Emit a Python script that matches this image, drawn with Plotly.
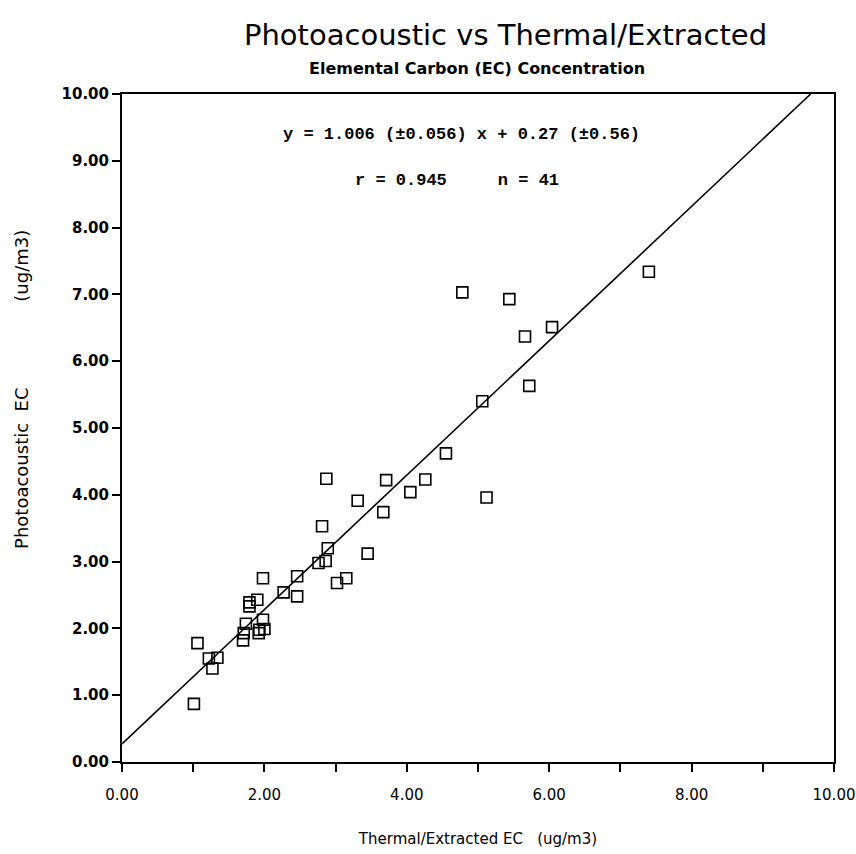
import plotly.graph_objects as go

# data (n = 41)
thermal_ec = [1.01, 1.06, 1.22, 1.34, 1.27, 1.70, 1.71, 1.74, 1.79, 1.79,
              1.90, 1.98, 1.92, 1.93, 1.98, 2.00, 2.27, 2.46, 2.46, 2.76,
              2.86, 2.89, 2.81, 2.87, 3.02, 3.15, 3.45, 3.31, 3.67, 3.71,
              4.05, 4.26, 4.55, 4.78, 5.44, 5.66, 6.04, 5.72, 5.06, 5.12,
              7.40]
photo_ec = [0.87, 1.78, 1.55, 1.56, 1.40, 1.82, 1.93, 2.07, 2.33, 2.39,
            2.43, 2.75, 1.93, 1.98, 2.13, 1.99, 2.54, 2.78, 2.48, 2.98,
            3.01, 3.20, 3.53, 4.24, 2.68, 2.75, 3.12, 3.91, 3.74, 4.22,
            4.04, 4.23, 4.62, 7.03, 6.93, 6.37, 6.51, 5.63, 5.40, 3.96,
            7.34]

# fit reported on the chart
slope = 1.006
intercept = 0.27
fit_x = [0.0, (10.0 - intercept) / slope]
fit_y = [intercept + slope * v for v in fit_x]

x_ticks = [0, 2, 4, 6, 8, 10]
y_ticks = [0, 1, 2, 3, 4, 5, 6, 7, 8, 9, 10]

fig = go.Figure()

fig.add_trace(go.Scatter(x=fit_x, y=fit_y, mode="lines",
                         line=dict(color="black", width=1.6),
                         hoverinfo="skip", showlegend=False))

fig.add_trace(go.Scatter(x=thermal_ec, y=photo_ec, mode="markers",
                         marker=dict(symbol="square-open", size=11, color="black",
                                     line=dict(width=1.6, color="black")),
                         showlegend=False))

# titles
fig.add_annotation(text="Photoacoustic vs Thermal/Extracted", xref="paper", yref="paper",
                   x=0.538, y=1.0, yshift=59, xanchor="center", yanchor="middle",
                   showarrow=False,
                   font=dict(family="DejaVu Sans", size=29, color="black"))
fig.add_annotation(text="<b>Elemental Carbon (EC) Concentration</b>", xref="paper", yref="paper",
                   x=0.499, y=1.0, yshift=26, xanchor="center", yanchor="middle",
                   showarrow=False,
                   font=dict(family="DejaVu Sans", size=16, color="black"))

# y axis title placed by hand (sits a bit above the plot centre)
fig.add_annotation(text="Photoacoustic  EC               (ug/m3)", xref="paper", yref="paper",
                   x=0.0, xshift=-100, y=0.557, xanchor="center", yanchor="middle",
                   textangle=-90, showarrow=False,
                   font=dict(family="DejaVu Sans", size=18, color="black"))

# fit text inside the plot
eq_font = dict(family="Liberation Mono, DejaVu Sans Mono", size=17, color="black")
fig.add_annotation(text="<b>y = 1.006 (±0.056) x + 0.27 (±0.56)</b>", x=4.77, y=9.40,
                   showarrow=False, font=eq_font)
fig.add_annotation(text="<b>r = 0.945     n = 41</b>", x=4.70, y=8.70,
                   showarrow=False, font=eq_font)

axis_common = dict(range=[0, 10], showgrid=False, zeroline=False,
                   showline=True, linecolor="black", linewidth=2, mirror=True,
                   ticks="outside", ticklen=8, tickwidth=1.5, tickcolor="black",
                   tickformat=".2f")

fig.update_xaxes(**axis_common, tickvals=x_ticks,
                 minor=dict(dtick=1, ticks="outside", ticklen=8, tickwidth=1.5, tickcolor="black"),
                 ticklabelstandoff=10, ticklabeloverflow="allow",
                 tickfont=dict(family="DejaVu Sans", size=15, color="black"),
                 title=dict(text="Thermal/Extracted EC   (ug/m3)", standoff=30,
                            font=dict(family="DejaVu Sans", size=15, color="black")))
fig.update_yaxes(**axis_common, tickvals=y_ticks,
                 tickfont=dict(family="DejaVu Sans", size=15, color="black", weight="bold"))

fig.update_layout(width=856, height=854, template="none",
                  paper_bgcolor="white", plot_bgcolor="white",
                  margin=dict(l=122, r=22, t=94, b=92))

# drop the default page margin so the 856x854 figure fills the window
fig.write_html("out.html", config={"displayModeBar": False},
               post_script="document.body.style.margin='0';")
